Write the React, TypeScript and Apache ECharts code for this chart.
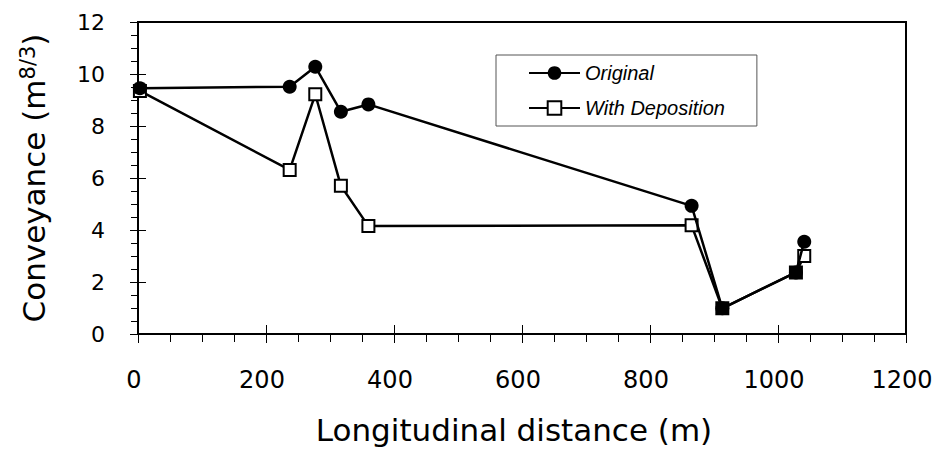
import React, { useEffect, useRef } from "react";
import * as echarts from "echarts";

const distances = [3, 237, 277, 317, 360, 865, 913, 1028, 1041];
const originalValues = [9.45, 9.51, 10.28, 8.55, 8.83, 4.93, 0.99, 2.37, 3.55];
const depositionValues = [9.35, 6.31, 9.22, 5.7, 4.15, 4.18, 0.99, 2.37, 3.0];
const seriesNames = ["Original", "With Deposition"];
const xAxisTitle = "Longitudinal distance (m)";
const yAxisTitleMain = "Conveyance (m";
const yAxisTitleSup = "8/3";

const AXIS_FONT = "DejaVu Sans";
const AXIS_WEIGHT = "normal";

export default function App() {
  const ref = useRef<HTMLDivElement>(null);
  useEffect(() => {
    if (!ref.current) return;
    const chart = echarts.init(ref.current, null, { renderer: "svg" });
    const origData = distances.map((d, i) => [d, originalValues[i]]);
    const depData = distances.map((d, i) => {
      const same = depositionValues[i] === originalValues[i];
      return same
        ? { value: [d, depositionValues[i]], itemStyle: { color: "#000" } }
        : { value: [d, depositionValues[i]] };
    });
    const xCommon = { type: "value", min: 0, max: 1200, interval: 200 };
    const yCommon = { type: "value", min: 0, max: 12, interval: 2 };
    chart.setOption({
      animation: false,
      backgroundColor: "#fff",
      grid: {
        left: 138,
        right: 33,
        top: 22,
        bottom: 117,
        show: true,
        borderColor: "#000",
        borderWidth: 2,
        backgroundColor: "transparent",
      },
      legend: {
        orient: "vertical",
        left: 496,
        top: 55,
        padding: [8, 32, 8, 32],
        itemGap: 15,
        itemWidth: 51,
        itemHeight: 17,
        backgroundColor: "#fff",
        borderColor: "#555",
        borderWidth: 1,
        borderRadius: 0,
        textStyle: {
          fontFamily: "Liberation Sans",
          fontStyle: "italic",
          fontSize: 20,
          color: "#000",
        },
        data: seriesNames,
      },
      xAxis: [
        {
          ...xCommon,
          position: "bottom",
          name: xAxisTitle,
          nameLocation: "middle",
          nameGap: 80,
          nameTextStyle: {
            fontFamily: AXIS_FONT,
            fontWeight: AXIS_WEIGHT,
            fontSize: 31,
            color: "#000",
            padding: [0, 16, 0, 0],
          },
          axisLine: { show: true, lineStyle: { color: "#000", width: 2 } },
          axisTick: { show: true, inside: false, length: 9, lineStyle: { color: "#000", width: 1 } },
          minorTick: { show: true, splitNumber: 4, length: 8, lineStyle: { color: "#000", width: 1 } },
          axisLabel: {
            margin: 34,
            fontFamily: AXIS_FONT,
            fontWeight: AXIS_WEIGHT,
            fontSize: 24,
            color: "#000",
            padding: [0, 8, 0, 0],
            formatter: (v: number) => String(v),
          },
          splitLine: { show: false },
        },
        {
          ...xCommon,
          position: "bottom",
          axisLine: { show: false },
          axisTick: { show: true, inside: true, length: 9, lineStyle: { color: "#000", width: 1 } },
          axisLabel: { show: false },
          splitLine: { show: false },
        },
      ],
      yAxis: [
        {
          ...yCommon,
          position: "left",
          name: `{t|${yAxisTitleMain}}{s|${yAxisTitleSup}}{t|)}`,
          nameLocation: "middle",
          nameGap: 88,
          nameRotate: 90,
          nameTextStyle: {
            color: "#000",
            rich: {
              t: { fontFamily: AXIS_FONT, fontWeight: AXIS_WEIGHT, fontSize: 31, color: "#000" },
              s: { fontFamily: AXIS_FONT, fontWeight: AXIS_WEIGHT, fontSize: 21, color: "#000", padding: [0, 0, 12, 0] },
            },
          },
          axisLine: { show: true, lineStyle: { color: "#000", width: 2 } },
          axisTick: { show: true, inside: false, length: 8, lineStyle: { color: "#000", width: 1 } },
          minorTick: { show: true, splitNumber: 4, length: 7, lineStyle: { color: "#000", width: 1 } },
          axisLabel: {
            margin: 33,
            fontFamily: AXIS_FONT,
            fontWeight: AXIS_WEIGHT,
            fontSize: 22,
            color: "#000",
            formatter: (v: number) => String(v),
          },
          splitLine: { show: false },
        },
        {
          ...yCommon,
          position: "left",
          axisLine: { show: false },
          axisTick: { show: true, inside: true, length: 8, lineStyle: { color: "#000", width: 1 } },
          axisLabel: { show: false },
          splitLine: { show: false },
        },
      ],
      series: [
        {
          name: seriesNames[1],
          type: "line",
          xAxisIndex: 0,
          yAxisIndex: 0,
          data: depData,
          symbol: "rect",
          symbolSize: 12,
          z: 2,
          color: "#000",
          lineStyle: { color: "#000", width: 2.5 },
          itemStyle: { color: "#fff", borderColor: "#000", borderWidth: 2 },
        },
        {
          name: seriesNames[0],
          type: "line",
          xAxisIndex: 0,
          yAxisIndex: 0,
          data: origData,
          symbol: "circle",
          symbolSize: 14,
          z: 3,
          color: "#000",
          lineStyle: { color: "#000", width: 2.5 },
          itemStyle: { color: "#000", borderColor: "#000", borderWidth: 0 },
        },
      ],
    });
    return () => chart.dispose();
  }, []);
  return <div ref={ref} style={{ width: 939, height: 451, position: "absolute", left: 0, top: 0 }} />;
}
